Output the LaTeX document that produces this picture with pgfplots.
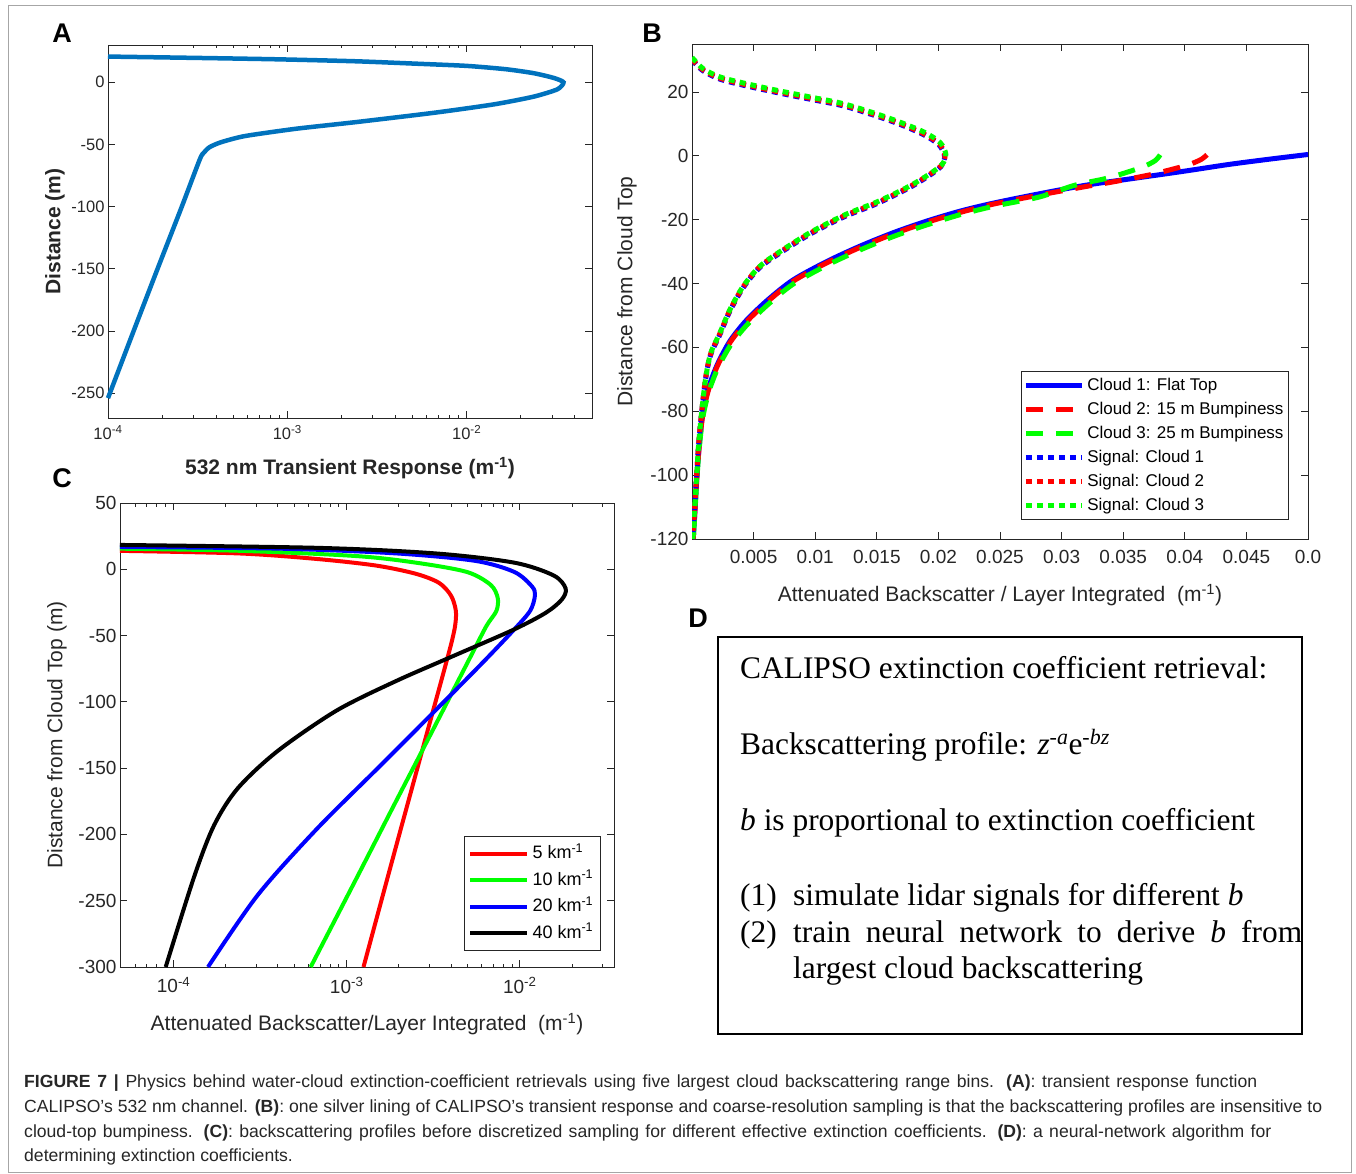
\documentclass[border=0pt]{standalone}
\usepackage{pgfplots}
\pgfplotsset{compat=1.18}
\usepackage{fontspec}
\setmainfont{Liberation Sans}
\newfontfamily\serif{Liberation Serif}

\definecolor{mlblue}{RGB}{0,114,189}
\definecolor{axgray}{RGB}{38,38,38}
\definecolor{pblue}{RGB}{0,0,255}
\definecolor{pred}{RGB}{255,0,0}
\definecolor{pgreen}{RGB}{0,255,0}

\newcommand{\fs}[1]{\fontsize{#1}{#1}\selectfont}

\pgfplotsset{
  matlab/.style={
    scale only axis,
    axis line style={axgray, line width=0.8pt},
    tick style={axgray, line width=0.8pt},
    tick align=inside,
    major tick length=7pt,
    minor tick length=3.5pt,
    tick label style={color=axgray},
    label style={color=axgray},
    /pgf/number format/assume math mode=true,
    scaled ticks=false,
  },
  mleg/.style={
    legend cell align=left,
    legend style={draw=axgray, line width=0.8pt, fill=white, inner sep=2pt,
      row sep=0pt, font=\fs{17},
      nodes={inner sep=3pt, text height=13.5pt, text depth=4.5pt}},
  },
}

\begin{document}
\begin{tikzpicture}
\useasboundingbox (0pt,0pt) rectangle (1356pt,-1174pt);
\draw[gray!70, line width=1pt] (8pt,-6pt) rectangle (1351pt,-1172pt);

% ---------- panel letters
\begin{scope}[every node/.style={font=\fs{27}\bfseries, inner sep=0pt, anchor=center}]
\node at (62pt,-33pt) {A};
\node at (652pt,-33pt) {B};
\node at (62pt,-478pt) {C};
\node at (698pt,-618pt) {D};
\end{scope}

% ---------- A
\begin{axis}[matlab,
  at={(108pt,-45pt)}, anchor=north west,
  width=484pt, height=373pt,
  xmode=log, xmin=1e-4, xmax=0.05,
  ymin=-270, ymax=30,
  xtick={1e-4,1e-3,1e-2},
  xticklabels={10\textsuperscript{-4},10\textsuperscript{-3},10\textsuperscript{-2}},
  minor xtick={2e-4,3e-4,4e-4,5e-4,6e-4,7e-4,8e-4,9e-4,2e-3,3e-3,4e-3,5e-3,6e-3,7e-3,8e-3,9e-3,2e-2,3e-2,4e-2},
  ytick={-250,-200,-150,-100,-50,0},
  tick label style={font=\fs{16.5}},
  xticklabel style={yshift=-4pt},
  xlabel={532 nm Transient Response (m\textsuperscript{-1})},
  ylabel={Distance (m)},
  label style={font=\fs{21}\bfseries},
  xlabel style={at={(axis description cs:0.5,-0.134)}, anchor=center},
  ylabel style={at={(axis description cs:-0.1095,0.5)}, anchor=center},
  clip=false,
]
\addplot[mlblue, line width=4.5pt, smooth, tension=0.4] coordinates {
  (1e-4,20.7) (3.17e-4,19.6) (8.75e-4,18.5) (2.42e-3,16.9) (5.17e-3,15.0)
  (0.01,13.2) (0.0166,10.5) (0.0237,7.3) (0.0306,3.5) (0.0347,0)
  (0.0321,-5.6) (0.0237,-11.5) (0.01426,-17.7) (6.67e-3,-24.4) (2.42e-3,-32.0)
  (1.127e-3,-37.3) (5.82e-4,-43.2) (4.29e-4,-48.1) (3.69e-4,-52.1) (3.42e-4,-56.7)
  (3.25e-4,-62.0) (2.58e-4,-100) (1.89e-4,-150) (1.39e-4,-200) (1e-4,-254)
};
\end{axis}

% ---------- B
\begin{axis}[matlab, mleg,
  at={(692pt,-44pt)}, anchor=north west,
  width=616pt, height=495pt,
  xmin=0, xmax=0.05, ymin=-120, ymax=35,
  xtick={0.005,0.01,0.015,0.02,0.025,0.03,0.035,0.04,0.045,0.05},
  xticklabels={0.005,0.01,0.015,0.02,0.025,0.03,0.035,0.04,0.045,0.0},
  ytick={-120,-100,-80,-60,-40,-20,0,20},
  tick label style={font=\fs{19}},
  xticklabel style={yshift=-8pt},
  xlabel={Attenuated Backscatter / Layer Integrated\ \ (m\textsuperscript{-1})},
  ylabel={Distance from Cloud Top},
  label style={font=\fs{21}},
  xlabel style={at={(axis description cs:0.5,-0.113)}, anchor=center},
  ylabel style={at={(axis description cs:-0.1055,0.5)}, anchor=center},
  legend style={at={(axis description cs:0.969,0.339)}, anchor=north east},
  legend image code/.code={\draw[#1] (0pt,0pt) -- (56pt,0pt);},
]
\addplot[pblue, line width=5pt, smooth] coordinates {
  (0.0500,0.4) (0.0470,-1.0) (0.0436,-2.7) (0.0400,-4.8) (0.0360,-7.0) (0.0320,-9.2)
  (0.0282,-11.9) (0.0245,-14.8) (0.0218,-17.3) (0.0191,-20.4) (0.0164,-24.0)
  (0.0137,-28.2) (0.0110,-33.0) (0.0082,-38.9) (0.0061,-45.3) (0.0044,-51.6)
  (0.0031,-57.9) (0.0021,-65) (0.0014,-72) (0.0009,-80) (0.0006,-90)
  (0.0004,-100) (0.00025,-110) (0.0001,-120)
};
\addlegendentry{Cloud 1: Flat Top}
\addplot[pred, line width=5pt, dash pattern=on 17pt off 13pt, smooth] coordinates {
  (0.0418,0.3) (0.0413,-1.2) (0.0403,-2.8) (0.0388,-4.4) (0.0370,-6.1) (0.0340,-8.3)
  (0.0320,-9.6) (0.0282,-12.3) (0.0245,-15.1) (0.0218,-17.7) (0.0191,-20.8)
  (0.0164,-24.4) (0.0137,-28.6) (0.0110,-33.4) (0.0082,-39.3) (0.0061,-45.8)
  (0.0044,-52.1) (0.0031,-58.4) (0.0021,-65.5) (0.0014,-72.5) (0.0009,-80.5)
  (0.0006,-90.5) (0.0004,-100.5) (0.00025,-110.5) (0.0001,-120)
};
\addlegendentry{Cloud 2: 15 m Bumpiness}
\addplot[pgreen, line width=5pt, dash pattern=on 17pt off 13pt, smooth] coordinates {
  (0.0380,0.3) (0.0376,-1.5) (0.0367,-3.3) (0.0352,-5.3) (0.0335,-7.2) (0.0310,-9.3)
  (0.0282,-12.9) (0.0245,-15.8) (0.0218,-18.4) (0.0191,-21.6) (0.0164,-25.2)
  (0.0137,-29.4) (0.0110,-34.2) (0.0082,-40.2) (0.0061,-46.8) (0.0044,-53.2)
  (0.0031,-59.5) (0.0021,-66.5) (0.0014,-73.5) (0.0009,-81.5) (0.0006,-91)
  (0.0004,-101) (0.00025,-111) (0.0001,-120)
};
\addlegendentry{Cloud 3: 25 m Bumpiness}
\addplot[pblue, line width=5pt, dash pattern=on 6pt off 5pt, smooth] coordinates {
  (0,30.0) (0.0009,26.6) (0.00226,24.0) (0.00416,22.1) (0.00688,19.8) (0.0096,17.7)
  (0.0123,15.6) (0.0150,12.4) (0.0169,9.8) (0.0188,6.6) (0.02005,3.4) (0.0205,-0.2)
  (0.0202,-3.4) (0.0191,-6.6) (0.0175,-10.3) (0.0150,-15.0) (0.0123,-19.2)
  (0.0096,-24.5) (0.0074,-29.8) (0.0055,-35.0) (0.00416,-41.3) (0.00307,-48.7)
  (0.00226,-56.0) (0.0015,-62.5) (0.0011,-70) (0.0008,-80) (0.00055,-90)
  (0.00038,-100) (0.00022,-110) (0.00005,-120)
};
\addlegendentry{Signal: Cloud 1}
\addplot[pred, line width=5pt, dash pattern=on 6pt off 5pt, smooth] coordinates {
  (0,30.2) (0.0009,26.9) (0.00226,24.3) (0.00416,22.4) (0.00688,20.1) (0.0096,18.0)
  (0.0123,15.9) (0.0150,12.7) (0.0169,10.1) (0.0188,6.9) (0.02008,3.7) (0.02053,0.1)
  (0.02023,-3.1) (0.0191,-6.3) (0.0175,-10.0) (0.0150,-14.7) (0.0123,-18.9)
  (0.0096,-24.2) (0.0074,-29.5) (0.0055,-34.7) (0.00416,-41.0) (0.00307,-48.4)
  (0.00226,-55.7) (0.0015,-62.2) (0.0011,-69.7) (0.0008,-79.7) (0.00055,-89.7)
  (0.00038,-99.7) (0.00022,-109.7) (0.00005,-120)
};
\addlegendentry{Signal: Cloud 2}
\addplot[pgreen, line width=5pt, dash pattern=on 6pt off 5pt, smooth] coordinates {
  (0,30.8) (0.0009,27.3) (0.00226,24.7) (0.00416,22.8) (0.00688,20.5) (0.0096,18.4)
  (0.0123,16.3) (0.0150,13.1) (0.0169,10.5) (0.0189,7.3) (0.02015,4.1) (0.0206,0.5)
  (0.0203,-2.7) (0.0192,-5.9) (0.0176,-9.6) (0.0151,-14.3) (0.0124,-18.5)
  (0.0097,-23.8) (0.0075,-29.1) (0.0056,-34.3) (0.0042,-40.6) (0.0031,-48.0)
  (0.00228,-55.3) (0.00152,-61.8) (0.00112,-69.3) (0.00081,-79.3) (0.00056,-89.3)
  (0.00039,-99.3) (0.00023,-109.3) (0.00006,-120)
};
\addlegendentry{Signal: Cloud 3}
\end{axis}

% ---------- C
\begin{axis}[matlab, mleg,
  at={(120pt,-503pt)}, anchor=north west,
  width=494pt, height=464pt,
  xmode=log, xmin=4.9e-5, xmax=0.035,
  ymin=-300, ymax=50,
  xtick={1e-4,1e-3,1e-2},
  xticklabels={10\textsuperscript{-4},10\textsuperscript{-3},10\textsuperscript{-2}},
  minor xtick={6e-5,7e-5,8e-5,9e-5,2e-4,3e-4,4e-4,5e-4,6e-4,7e-4,8e-4,9e-4,2e-3,3e-3,4e-3,5e-3,6e-3,7e-3,8e-3,9e-3,2e-2,3e-2},
  ytick={-300,-250,-200,-150,-100,-50,0,50},
  tick label style={font=\fs{19}},
  xticklabel style={yshift=-7pt},
  xlabel={Attenuated Backscatter/Layer Integrated\ \ (m\textsuperscript{-1})},
  ylabel={Distance from Cloud Top (m)},
  label style={font=\fs{21}},
  xlabel style={at={(axis description cs:0.5,-0.1228)}, anchor=center},
  ylabel style={at={(axis description cs:-0.1275,0.5)}, anchor=center},
  legend style={at={(axis description cs:0.974,0.282)}, anchor=north east,
    font=\fs{18}, inner sep=4pt,
    nodes={inner sep=3.5pt, text height=14.5pt, text depth=5pt}},
  legend image code/.code={\draw[#1] (0pt,0pt) -- (57pt,0pt);},
]
\addplot[pred, line width=4pt, smooth] coordinates {
  (4e-5,14.1) (2.34e-4,12.0) (6.7e-4,7.8) (1.48e-3,2.8) (2.51e-3,-3.4) (3.42e-3,-10.3)
  (4.01e-3,-20) (4.27e-3,-31.3) (4.23e-3,-42.5) (4.01e-3,-56.4) (3.56e-3,-81.6)
  (3.03e-3,-115) (2.44e-3,-160) (1.97e-3,-204.5) (1.57e-3,-252) (1.25e-3,-300)
};
\addlegendentry{5 km\textsuperscript{-1}}
\addplot[pgreen, line width=4pt, smooth] coordinates {
  (4e-5,15.7) (2.34e-4,14.0) (1.13e-3,10.0) (2.51e-3,5.0) (4.94e-3,-2.0) (6.78e-3,-11.7)
  (7.45e-3,-21.5) (7.33e-3,-31.3) (6.43e-3,-42.5) (5.38e-3,-62) (4.29e-3,-87)
  (2.93e-3,-129) (1.90e-3,-176.5) (1.15e-3,-232) (6.19e-4,-300)
};
\addlegendentry{10 km\textsuperscript{-1}}
\addplot[pblue, line width=4pt, smooth] coordinates {
  (4e-5,16.9) (3.96e-4,15.6) (1.92e-3,12.0) (5.5e-3,6.4) (9.29e-3,-2.0) (0.01178,-13.1)
  (0.01222,-20) (0.01147,-31.3) (9.29e-3,-45.3) (6.1e-3,-70.4) (3.24e-3,-106.7)
  (1.55e-3,-148.6) (6.7e-4,-196) (3.05e-4,-246) (1.58e-4,-300)
};
\addlegendentry{20 km\textsuperscript{-1}}
\addplot[black, line width=4pt, smooth] coordinates {
  (4e-5,18.5) (6.7e-4,16.2) (3.24e-3,12.0) (9.29e-3,5.0) (0.0157,-4.7) (0.0184,-14.5)
  (0.01746,-22.9) (0.01416,-32.7) (9.29e-3,-45.3) (4.23e-3,-64.8) (1.92e-3,-84.4)
  (8.7e-4,-106.7) (3.96e-4,-137.4) (2.34e-4,-165.4) (1.71e-4,-193.3) (1.31e-4,-232.4)
  (9e-5,-300)
};
\addlegendentry{40 km\textsuperscript{-1}}
\end{axis}

% ---------- D
\draw[black, line width=2pt] (718pt,-637pt) rectangle (1302pt,-1034pt);
\begin{scope}[every node/.style={anchor=base west, inner sep=0pt, font=\serif\fs{31.4}}]
\node at (740pt,-678pt) {CALIPSO extinction coefficient retrieval:};
\node at (740pt,-754pt) {Backscattering profile: \textit{z}\textsuperscript{-\textit{a}}e\textsuperscript{-\textit{bz}}};
\node at (740pt,-830pt) {\textit{b} is proportional to extinction coefficient};
\node at (740pt,-905pt) {(1)};
\node at (793pt,-905pt) {simulate lidar signals for different \textit{b}};
\node at (740pt,-942pt) {(2)};
\node at (793pt,-942pt) {\makebox[509pt][s]{train neural network to derive \textit{b} from}};
\node at (793pt,-978pt) {largest cloud backscattering};
\end{scope}

% ---------- caption
\begin{scope}[every node/.style={anchor=base west, inner sep=0pt, font=\fs{17.6}, text=black!85}]
\node at (24pt,-1087.5pt) {\makebox[1233pt][s]{\textbf{FIGURE 7 |} Physics behind water-cloud extinction-coefficient retrievals using five largest cloud backscattering range bins. \textbf{(A)}: transient response function}};
\node at (24pt,-1112.5pt) {\makebox[1298pt][s]{CALIPSO’s 532 nm channel. \textbf{(B)}: one silver lining of CALIPSO’s transient response and coarse-resolution sampling is that the backscattering profiles are insensitive to}};
\node at (24pt,-1137pt) {\makebox[1247pt][s]{cloud-top bumpiness. \textbf{(C)}: backscattering profiles before discretized sampling for different effective extinction coefficients. \textbf{(D)}: a neural-network algorithm for}};
\node at (24pt,-1161.5pt) {determining extinction coefficients.};
\end{scope}
\end{tikzpicture}
\end{document}
